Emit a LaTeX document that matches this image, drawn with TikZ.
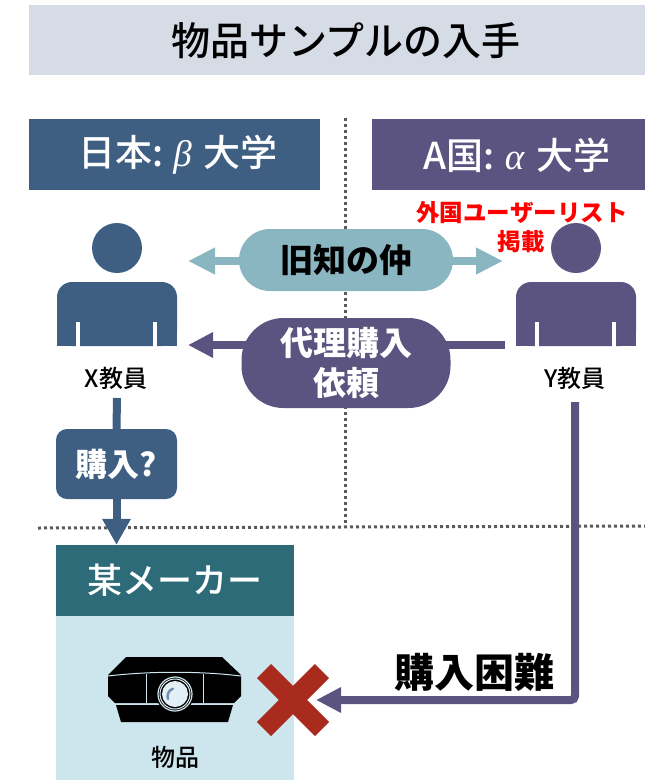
\documentclass[tikz,border=0pt]{standalone}
\usepackage{fontspec}
\setmainfont{Noto Sans CJK JP}
\newfontfamily\grk{Liberation Serif}
\newfontfamily\jpmed{Noto Sans CJK JP Medium}
\usetikzlibrary{arrows.meta}
\definecolor{titlebg}{HTML}{D6DCE5}
\definecolor{lblue}{HTML}{3E5F82}
\definecolor{purp}{HTML}{5B5380}
\definecolor{tealpill}{HTML}{8AB6C1}
\definecolor{makerhd}{HTML}{2E6B78}
\definecolor{makerbd}{HTML}{CDE6ED}
\definecolor{redx}{HTML}{A82B1E}
\definecolor{dotgray}{HTML}{5A5A5A}
\definecolor{lenshl}{HTML}{6F8FB0}
\definecolor{lensin}{HTML}{E2F0F5}
\tikzset{
  boxbg/.style={inner sep=0pt, minimum height=#1},
  dotline/.style={draw=dotgray, line width=3pt, dash pattern=on 3pt off 3pt},
  tealarrow/.style={draw=tealpill, line width=8pt, {Triangle[length=27pt,width=25pt]}-{Triangle[length=27pt,width=25pt]}},
  purparrow/.style={draw=purp, line width=8pt, -{Triangle[length=25pt,width=24pt]}},
  bluearrow/.style={draw=lblue, line width=8pt, -{Triangle[length=26pt,width=27pt]}},
  blueline/.style={draw=lblue, line width=8pt},
  hdrtext/.style={text=white, inner sep=0pt, font=\fontsize{37pt}{40pt}\selectfont\jpmed},
  redtxt/.style={text=red, inner sep=0pt, font=\fontsize{23.5pt}{26pt}\selectfont\bfseries},
  lbl/.style={text=black, inner sep=0pt, font=\fontsize{24pt}{26pt}\selectfont\jpmed},
  pilltext/.style={inner sep=0pt, align=center, font=\fontsize{33pt}{40pt}\selectfont\bfseries},
  teacher/.pic={
    \fill (0,0) circle[radius=25pt];
    \fill[rounded corners=15pt] (-60,34) rectangle (60,98);
    \fill (-60,60) rectangle (60,98);
    \draw[white, line width=3.5pt] (-39,74) -- (-39,99) (38,74) -- (38,99);
  }
}
\begin{document}
\begin{tikzpicture}[x=1pt,y=-1pt]
\useasboundingbox (0,0) rectangle (645,780);
% title band
\node[boxbg=70pt, fill=titlebg, minimum width=616pt] (title) at (337,40) {};
\node[inner sep=0pt, font=\fontsize{39pt}{42pt}\selectfont\jpmed] (titletext) at (346,41) {物品サンプルの入手};
% dotted separators
\coordinate (vtop) at (345,118);
\coordinate (vbot) at (345,527);
\draw[dotline] (vtop) -- (vbot);
\coordinate (hl) at (38,528);
\coordinate (hr) at (645,526);
\draw[dotline] (hl) -- (hr);
% headers
\node[boxbg=71pt, fill=lblue, minimum width=291pt] (lhdr) at (174.5,154.5) {};
\node[hdrtext] (lhdrt) at (178,155) {日本:\hspace{10pt}{\grk\itshape β}\hspace{12pt}大学};
\node[boxbg=71pt, fill=purp, minimum width=273pt] (rhdr) at (508.5,154.5) {};
\node[hdrtext] (rhdrt) at (517,155) {A国:\hspace{10pt}{\grk\itshape α}\hspace{12pt}大学};
% persons
\pic[color=lblue] at (117,248) {teacher};
\pic[color=purp] at (576,248) {teacher};
\node[lbl] (xt) at (116,378) {X教員};
\node[lbl] (yt) at (575,378) {Y教員};
% red note
\node[redtxt] (list) at (522,213) {外国ユーザーリスト};
\node[redtxt] (keisai) at (521,242) {掲載};
% acquaintance arrow
\coordinate (kL) at (188,261);
\coordinate (kR) at (503,261);
\draw[tealarrow] (kL) -- (kR);
\node[fill=tealpill, minimum width=214pt, minimum height=62pt, rounded corners=31pt, pilltext] (kyuchi) at (346,260) {旧知の仲};
% proxy purchase request arrow
\coordinate (dR) at (505,345);
\coordinate (dL) at (188,345);
\draw[purparrow] (dR) -- (dL);
\node[fill=purp, text=white, minimum width=209pt, minimum height=90pt, rounded corners=42pt, pilltext] (dairi) at (346,363) {代理購入\\依頼};
% maker box
\node[boxbg=164pt, fill=makerbd, minimum width=238pt] (makerbody) at (175,698) {};
\node[boxbg=71pt, fill=makerhd, minimum width=238pt, text=white, font=\fontsize{35pt}{38pt}\selectfont\jpmed] (maker) at (175,580.5) {某メーカー};
% X teacher purchase path
\coordinate (xs) at (117,398);
\node[fill=lblue, text=white, minimum width=121pt, minimum height=70pt, rounded corners=11pt, pilltext, font=\fontsize{32pt}{36pt}\selectfont\bfseries] (buy) at (116.5,464) {購入?};
\draw[blueline] (xs) -- (buy.north);
\draw[bluearrow] (buy.south) -- (buy.south |- maker.north);
% projector icon
\fill[black] (126,657) -- (222,657) -- (241,675) -- (241,696) -- (234,703) -- (115,703) -- (108,696) -- (108,675) -- cycle;
\fill[black] (116,705) -- (233,705) -- (228,722) -- (121,722) -- cycle;
\draw[makerbd, line width=1pt] (108,676) .. controls (150,671) and (200,671) .. (241,676);
\draw[makerbd, line width=1pt] (146,674) -- (146,703) (203,674) -- (203,703);
\fill[black] (175,694) circle[radius=19pt];
\draw[makerbd, line width=1.2pt] (175,694) circle[radius=17pt];
\fill[lensin] (175,694) circle[radius=13pt];
\draw[lensin, line width=1pt] (175,694) circle[radius=15pt];
\draw[lenshl, line width=2.5pt, line cap=round] (168,699) arc[start angle=200, end angle=110, radius=8pt];
\node[lbl] (item) at (175,757) {物品};
% Y teacher path: purchase difficult
\coordinate (ys) at (575,402);
\coordinate (yc) at (575,700);
\coordinate (xend) at (316,700);
\draw[redx, line width=20pt] (264,671) -- (322,729) (322,671) -- (264,729);
\draw[purparrow, rounded corners=4pt] (ys) -- (yc) -- (xend);
\node[inner sep=0pt, font=\fontsize{40pt}{42pt}\selectfont\bfseries] (difficult) at (474,672) {購入困難};
\end{tikzpicture}
\end{document}
